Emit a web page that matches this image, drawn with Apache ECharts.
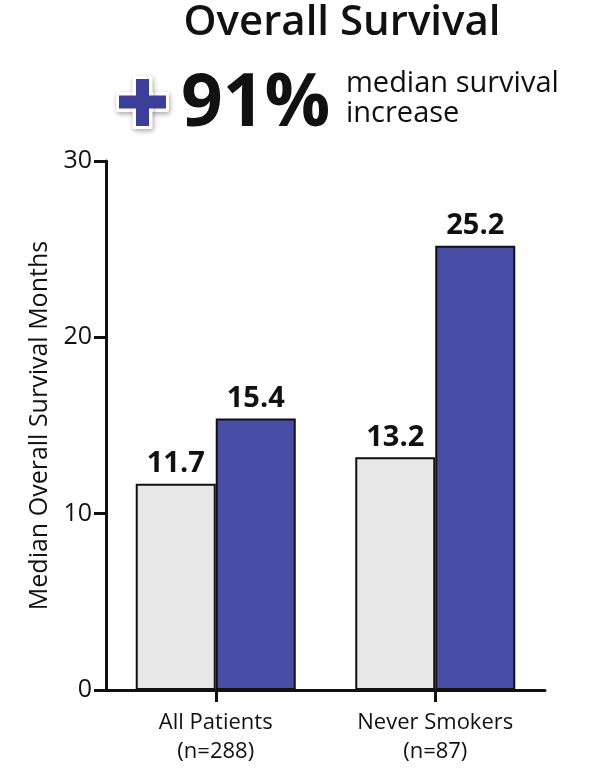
<!DOCTYPE html>
<html>
<head>
<meta charset="utf-8">
<style>
  html, body { margin: 0; padding: 0; background: #ffffff; }
  #chart { width: 590px; height: 768px; }
</style>
<script src="https://cdn.jsdelivr.net/npm/echarts@6/dist/echarts.min.js"></script>
</head>
<body>
<div id="chart"></div>
<script>
// Patient groups and median overall survival (months)
const categories = ['All Patients\n(n=288)', 'Never Smokers\n(n=87)'];
const controlMonths = [11.7, 13.2];
const treatedMonths = [15.4, 25.2];
const yTicks = [0, 10, 20, 30];
const headline = '91%';
const headlineNote = 'median survival\nincrease';

const FONT = '"Open Sans", "Noto Sans", sans-serif';
const BLUE = '#484ea6';
const GREY = '#e8e8e8';

const chart = echarts.init(document.getElementById('chart'), null, { renderer: 'canvas' });

const barLabel = {
  show: true,
  position: 'top',
  distance: 5,
  fontFamily: FONT,
  fontWeight: 'bold',
  fontSize: 29,
  color: '#111'
};

chart.setOption({
  animation: false,
  title: {
    text: 'Overall Survival',
    left: 337,
    top: -3,
    textAlign: 'center',
    textStyle: { fontFamily: FONT, fontWeight: 600, fontSize: 42, color: '#111' }
  },
  graphic: [
    // blue plus sign with white outline and soft shadow
    {
      type: 'group',
      left: 116,
      top: 76,
      children: [
        {
          type: 'rect',
          shape: { x: 0, y: 16, width: 53, height: 20, r: 2 },
          style: { fill: '#ffffff', shadowBlur: 5, shadowColor: 'rgba(0,0,0,0.35)', shadowOffsetX: 1, shadowOffsetY: 2 }
        },
        {
          type: 'rect',
          shape: { x: 16.5, y: 0, width: 20, height: 53, r: 2 },
          style: { fill: '#ffffff', shadowBlur: 5, shadowColor: 'rgba(0,0,0,0.35)', shadowOffsetX: 1, shadowOffsetY: 2 }
        },
        {
          type: 'rect',
          shape: { x: 16, y: 16, width: 21, height: 20 },
          style: { fill: '#ffffff' }
        },
        {
          type: 'rect',
          shape: { x: 3, y: 19.5, width: 47, height: 13 },
          style: { fill: '#3b3f98' }
        },
        {
          type: 'rect',
          shape: { x: 20, y: 3, width: 13, height: 47 },
          style: { fill: '#3b3f98' }
        }
      ]
    },
    {
      type: 'text',
      left: 181,
      top: 69,
      style: {
        text: headline,
        fontFamily: FONT,
        fontWeight: 'bold',
        fontSize: 73,
        fill: '#111'
      }
    },
    {
      type: 'text',
      left: 346,
      top: 69,
      style: {
        text: headlineNote,
        fontFamily: FONT,
        fontSize: 29,
        lineHeight: 30,
        fill: '#111'
      }
    }
  ],
  grid: {
    left: 106,
    right: 45,
    top: 161,
    bottom: 78,
    containLabel: false
  },
  xAxis: {
    type: 'category',
    data: categories,
    axisLine: { show: true, lineStyle: { color: '#111', width: 3 } },
    axisTick: { show: true, alignWithLabel: true, length: 12, lineStyle: { color: '#111', width: 3 } },
    axisLabel: {
      fontFamily: FONT,
      fontSize: 22,
      lineHeight: 29,
      color: '#111',
      margin: 18
    }
  },
  yAxis: {
    type: 'value',
    min: yTicks[0],
    max: yTicks[yTicks.length - 1],
    interval: 10,
    name: 'Median Overall Survival Months',
    nameLocation: 'middle',
    nameGap: 53,
    nameTextStyle: { fontFamily: FONT, fontSize: 25, color: '#111' },
    axisLine: { show: true, lineStyle: { color: '#111', width: 3 } },
    axisTick: { show: true, length: 12, lineStyle: { color: '#111', width: 3 } },
    axisLabel: { fontFamily: FONT, fontSize: 25, color: '#111', margin: 14 },
    splitLine: { show: false }
  },
  series: [
    {
      name: 'Control',
      type: 'bar',
      data: controlMonths,
      barWidth: 80,
      barGap: '0%',
      itemStyle: { color: GREY, borderColor: '#111', borderWidth: 2 },
      label: barLabel
    },
    {
      name: 'Treatment',
      type: 'bar',
      data: treatedMonths,
      barWidth: 80,
      barGap: '0%',
      itemStyle: { color: BLUE, borderColor: '#111', borderWidth: 2 },
      label: barLabel
    }
  ]
});
</script>
</body>
</html>
